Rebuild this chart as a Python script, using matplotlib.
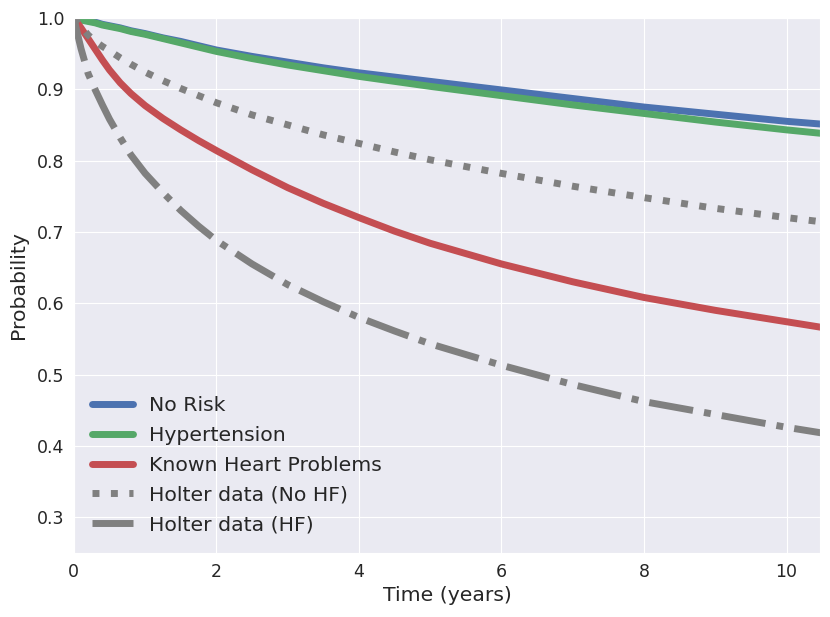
import numpy as np
import matplotlib
matplotlib.use("Agg")
import matplotlib.pyplot as plt
import seaborn as sns

# ---------- Data ----------
time_years = [0, 0.05, 0.1, 0.2, 0.3, 0.4, 0.5, 0.65, 0.8, 1.0, 1.25, 1.5, 1.75,
              2, 2.5, 3, 3.5, 4, 4.5, 5, 6, 7, 8, 9, 10, 10.5]

no_risk = [1.0, 0.999, 0.998, 0.996, 0.994, 0.991, 0.989, 0.986, 0.982, 0.978, 0.972, 0.967, 0.961,
           0.955, 0.946, 0.938, 0.930, 0.923, 0.917, 0.911, 0.899, 0.887, 0.875, 0.865, 0.855, 0.851]
hypertension = [1.0, 0.999, 0.997, 0.995, 0.993, 0.990, 0.988, 0.985, 0.981, 0.977, 0.971, 0.965, 0.959,
                0.953, 0.943, 0.934, 0.926, 0.918, 0.911, 0.904, 0.891, 0.878, 0.866, 0.854, 0.843, 0.838]
heart_problems = [1.0, 0.993, 0.986, 0.971, 0.956, 0.941, 0.927, 0.909, 0.894, 0.877, 0.859, 0.843, 0.828,
                  0.814, 0.787, 0.762, 0.740, 0.720, 0.701, 0.684, 0.655, 0.630, 0.608, 0.590, 0.574, 0.566]
holter_no_hf = [1.0, 0.994, 0.988, 0.976, 0.967, 0.960, 0.954, 0.944, 0.935, 0.924, 0.912, 0.901, 0.891,
                0.881, 0.864, 0.850, 0.836, 0.824, 0.812, 0.801, 0.782, 0.764, 0.748, 0.733, 0.720, 0.714]
holter_hf = [1.0, 0.978, 0.957, 0.922, 0.899, 0.878, 0.858, 0.832, 0.808, 0.782, 0.755, 0.730, 0.708,
             0.688, 0.655, 0.626, 0.602, 0.580, 0.561, 0.543, 0.513, 0.486, 0.462, 0.444, 0.426, 0.418]

# ---------- Plotting ----------
sns.set_style("darkgrid")
plt.rcParams['font.family'] = ['DejaVu Sans']
plt.rcParams['lines.solid_capstyle'] = 'round'

fig = plt.figure(figsize=(8.3, 6.17), dpi=100)
ax = fig.add_axes([0.089, 0.104, 0.899, 0.867])

ax.plot(time_years, no_risk, color="#4C72B0", lw=5, label="No Risk")
ax.plot(time_years, hypertension, color="#55A868", lw=5, label="Hypertension")
ax.plot(time_years, heart_problems, color="#C44E52", lw=5, label="Known Heart Problems")
ax.plot(time_years, holter_no_hf, color="gray", lw=5, ls=":", label="Holter data (No HF)")
ax.plot(time_years, holter_hf, color="gray", lw=5, ls="-.", label="Holter data (HF)")

ax.set_xlim(0, 10.47)
ax.set_ylim(0.25, 1.0)
ax.set_xticks([0, 2, 4, 6, 8, 10])
ax.set_yticks([0.3, 0.4, 0.5, 0.6, 0.7, 0.8, 0.9, 1.0])
ax.tick_params(labelsize=12.5, colors=".15")
ax.set_xlabel("Time (years)", fontsize=14.7, color=".15")
ax.set_ylabel("Probability", fontsize=14.7, color=".15", labelpad=6)

ax.legend(loc="lower left", fontsize=14.7, frameon=False,
          handlelength=2.0, handletextpad=0.8, labelspacing=0.53)

fig.savefig("out.png", dpi=100)
